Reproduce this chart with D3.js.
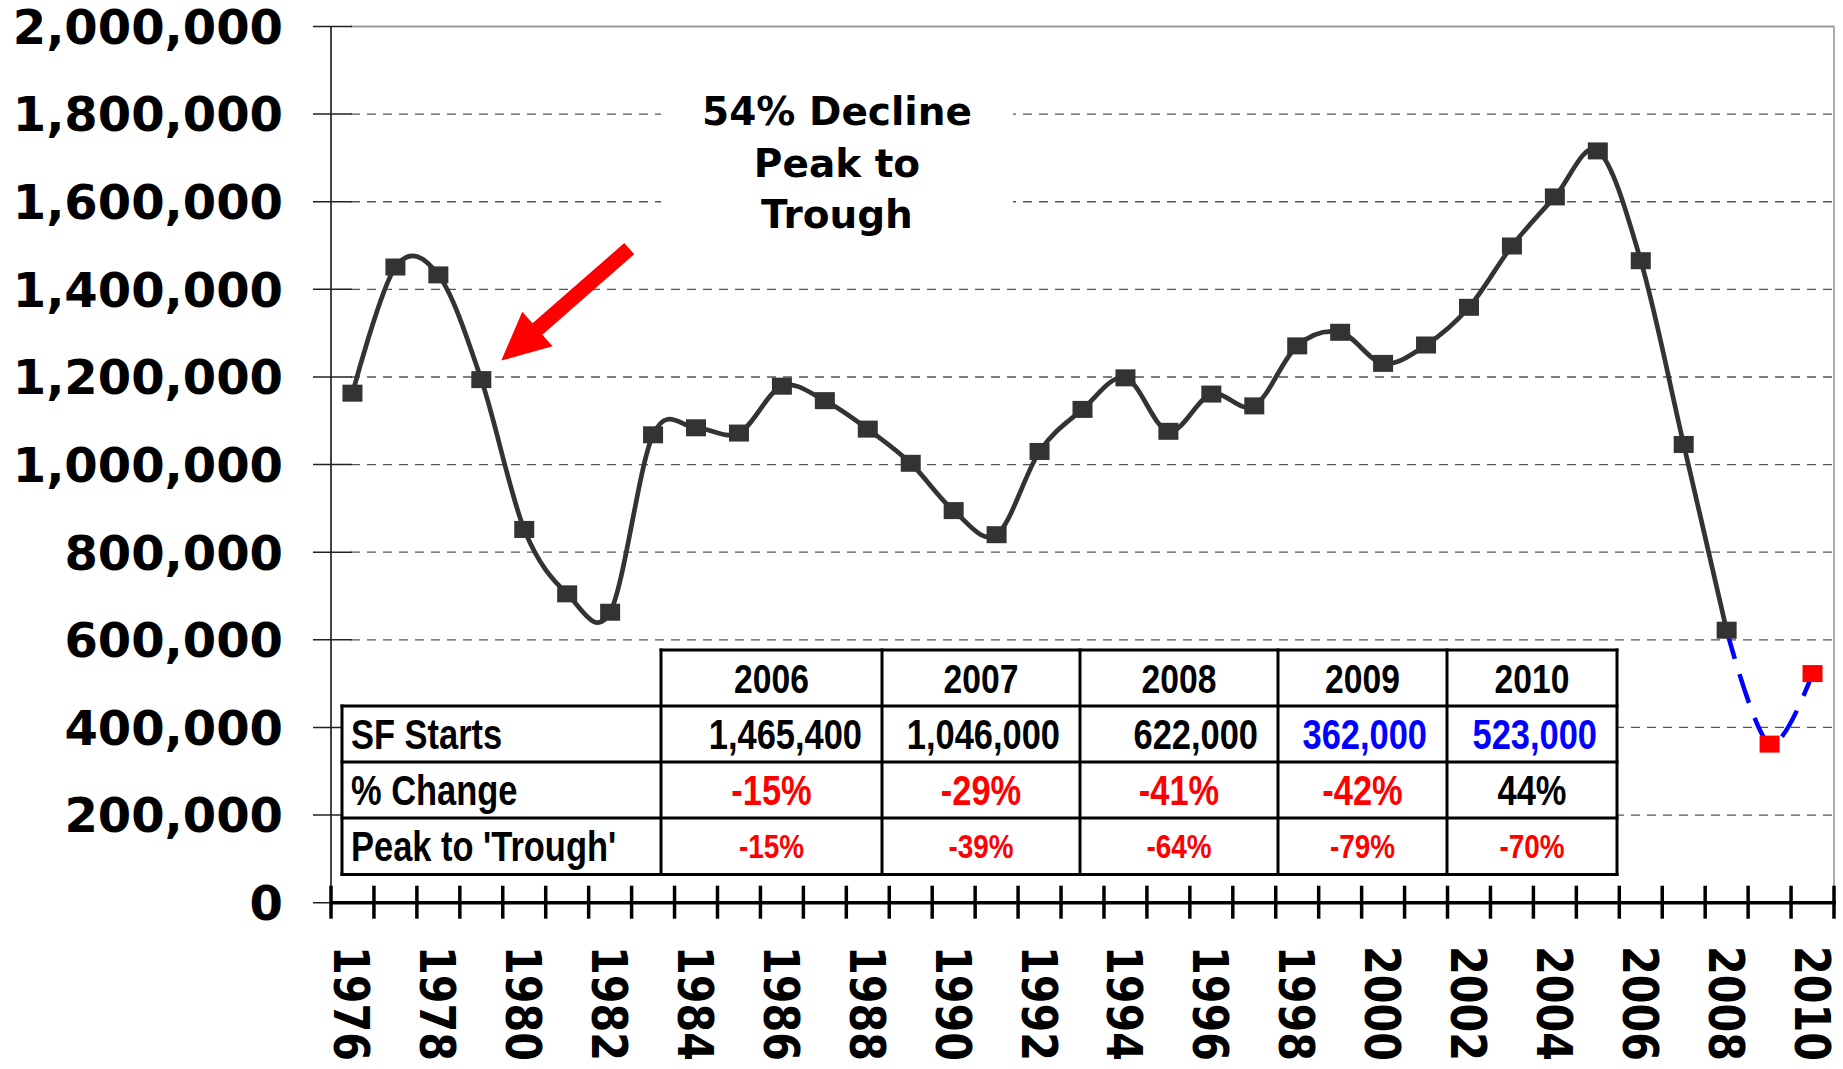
<!DOCTYPE html>
<html>
<head>
<meta charset="utf-8">
<script src="https://cdn.jsdelivr.net/npm/d3@7"></script>
<style>
  html, body { margin: 0; padding: 0; background: #fff; }
  svg { display: block; }
</style>
</head>
<body>
<svg id="chart" width="1843" height="1069"></svg>
<script>
// Single-family housing starts, 1976-2010
const years = [1976, 1977, 1978, 1979, 1980, 1981, 1982, 1983, 1984, 1985, 1986, 1987,
    1988, 1989, 1990, 1991, 1992, 1993, 1994, 1995, 1996, 1997, 1998, 1999, 2000,
    2001, 2002, 2003, 2004, 2005, 2006, 2007, 2008, 2009, 2010];
const actualYears = years.slice(0, 33); // 1976 - 2008
const actualStarts = [1163000, 1451000, 1433000, 1194000, 852000, 705000, 663000,
    1068000, 1084000, 1072000, 1179000, 1146000, 1081000, 1003000, 895000, 840000,
    1030000, 1126000, 1198000, 1076000, 1161000, 1134000, 1271000, 1302000, 1231000,
    1273000, 1359000, 1499000, 1611000, 1716000, 1465400, 1046000, 622000];
const forecastYears = [2008, 2009, 2010];
const forecastStarts = [622000, 362000, 523000];
const yTicks = [0, 200000, 400000, 600000, 800000, 1000000, 1200000, 1400000, 1600000, 1800000, 2000000];

// table under the curve
const tableYears = ['2006', '2007', '2008', '2009', '2010'];
const tableSfStarts = [1465400, 1046000, 622000, 362000, 523000];
const tablePctChange = ['-15%', '-29%', '-41%', '-42%', '44%'];
const tablePeakToTrough = ['-15%', '-39%', '-64%', '-79%', '-70%'];
const tableRowLabels = ['SF Starts', '% Change', "Peak to 'Trough'"];
const noteLines = ['54% Decline', 'Peak to', 'Trough'];

const svg = d3.select('#chart');
const plot = { left: 331, right: 1834, top: 26.5, bottom: 902.7 };
const wide = 'DejaVu Sans, Verdana, sans-serif';
const narrow = "'Liberation Sans', Arial, sans-serif";

const x = d3.scaleBand().domain(years).range([plot.left, plot.right]);
const cx = d => x(d) + x.bandwidth() / 2;
const y = d3.scaleLinear().domain([0, 2000000]).range([plot.bottom, plot.top]);

svg.append('rect').attr('width', 1843).attr('height', 1069).attr('fill', '#fff');

// gridlines
svg.append('g').selectAll('line')
    .data(yTicks.filter(v => v > 0 && v < 2000000))
    .join('line')
    .attr('x1', plot.left + 20).attr('x2', plot.right)
    .attr('y1', d => y(d)).attr('y2', d => y(d))
    .attr('stroke', '#555').attr('stroke-width', 1.3)
    .attr('stroke-dasharray', '9,7');

// plot border (top / right)
svg.append('line').attr('x1', plot.left + 20).attr('x2', plot.right)
    .attr('y1', plot.top).attr('y2', plot.top)
    .attr('stroke', '#999').attr('stroke-width', 2);
svg.append('line').attr('x1', plot.right).attr('x2', plot.right)
    .attr('y1', plot.top).attr('y2', plot.bottom)
    .attr('stroke', '#aaa').attr('stroke-width', 2);

// annotation box
svg.append('rect').attr('x', 661).attr('y', 75).attr('width', 352).attr('height', 165).attr('fill', '#fff');
svg.append('g').selectAll('text')
    .data(noteLines)
    .join('text')
    .attr('x', 837).attr('y', (d, i) => 125 + i * 51.5)
    .attr('text-anchor', 'middle')
    .attr('font-family', wide).attr('font-weight', 'bold').attr('font-size', 39)
    .attr('fill', '#000')
    .text(d => d);

// y axis
svg.append('line').attr('x1', plot.left).attr('x2', plot.left)
    .attr('y1', plot.top).attr('y2', plot.bottom)
    .attr('stroke', '#444').attr('stroke-width', 2);
const yAxis = svg.append('g');
yAxis.selectAll('line')
    .data(yTicks)
    .join('line')
    .attr('x1', 313).attr('x2', 352)
    .attr('y1', d => y(d)).attr('y2', d => y(d))
    .attr('stroke', '#222').attr('stroke-width', 1.5);
yAxis.selectAll('text')
    .data(yTicks)
    .join('text')
    .attr('x', 283).attr('y', d => y(d)).attr('dy', '0.36em')
    .attr('text-anchor', 'end')
    .attr('font-family', wide).attr('font-weight', 'bold').attr('font-size', 48)
    .text(d => d3.format(',')(d));

// table
const cols = [661, 882, 1080, 1278, 1447, 1617];
const rows = [650, 706, 762, 818, 874.5];
const labelLeft = 342;
const table = svg.append('g');
table.append('rect').attr('x', cols[0]).attr('y', rows[0])
    .attr('width', cols[5] - cols[0]).attr('height', rows[1] - rows[0]).attr('fill', '#fff');
table.append('rect').attr('x', labelLeft).attr('y', rows[1])
    .attr('width', cols[5] - labelLeft).attr('height', rows[4] - rows[1]).attr('fill', '#fff');

const colCenter = i => (cols[i] + cols[i + 1]) / 2;
const rowBase = (r, size) => (rows[r] + rows[r + 1]) / 2 + 0.358 * size;

table.selectAll('.yr').data(tableYears).join('text')
    .attr('x', (d, i) => colCenter(i)).attr('y', rowBase(0, 41))
    .attr('text-anchor', 'middle').attr('font-size', 41)
    .attr('fill', '#000').text(d => d);
table.selectAll('.sf').data(tableSfStarts).join('text')
    .attr('x', (d, i) => cols[i + 1] - 20).attr('y', rowBase(1, 42))
    .attr('text-anchor', 'end').attr('font-size', 42)
    .attr('fill', (d, i) => i >= 3 ? '#0000ff' : '#000')
    .text(d => d3.format(',')(d));
table.selectAll('.pc').data(tablePctChange).join('text')
    .attr('x', (d, i) => colCenter(i)).attr('y', rowBase(2, 42))
    .attr('text-anchor', 'middle').attr('font-size', 42)
    .attr('fill', d => d.startsWith('-') ? '#ff0000' : '#000')
    .text(d => d);
table.selectAll('.pt').data(tablePeakToTrough).join('text')
    .attr('x', (d, i) => colCenter(i)).attr('y', rowBase(3, 34))
    .attr('text-anchor', 'middle').attr('font-size', 34)
    .attr('fill', d => d.startsWith('-') ? '#ff0000' : '#000')
    .text(d => d);
table.selectAll('.lbl').data(tableRowLabels).join('text')
    .attr('x', labelLeft + 9).attr('y', (d, i) => rowBase(i + 1, 42))
    .attr('font-size', 42).attr('fill', '#000')
    .text(d => d);
// condensed look of the table font
table.selectAll('text')
    .attr('font-family', narrow).attr('font-weight', 'bold')
    .each(function () {
        const len = this.getComputedTextLength();
        d3.select(this).attr('textLength', len * 0.82).attr('lengthAdjust', 'spacingAndGlyphs');
    });

const tl = table.append('g').attr('stroke', '#000').attr('stroke-width', 3).attr('stroke-linecap', 'square');
tl.append('line').attr('x1', cols[0]).attr('x2', cols[5]).attr('y1', rows[0]).attr('y2', rows[0]);
rows.slice(1).forEach(r => {
    tl.append('line').attr('x1', labelLeft).attr('x2', cols[5]).attr('y1', r).attr('y2', r);
});
tl.append('line').attr('x1', labelLeft).attr('x2', labelLeft).attr('y1', rows[1]).attr('y2', rows[4]);
cols.forEach(c => {
    tl.append('line').attr('x1', c).attr('x2', c).attr('y1', rows[0]).attr('y2', rows[4]);
});

// x axis
svg.append('line').attr('x1', plot.left).attr('x2', plot.right + 2)
    .attr('y1', plot.bottom).attr('y2', plot.bottom)
    .attr('stroke', '#000').attr('stroke-width', 3.5);
svg.append('g').selectAll('line')
    .data(years.map(d => x(d)).concat([plot.right]))
    .join('line')
    .attr('x1', d => d).attr('x2', d => d)
    .attr('y1', plot.bottom - 17).attr('y2', plot.bottom + 16)
    .attr('stroke', '#000').attr('stroke-width', 3.5);
svg.append('g').selectAll('text')
    .data(years.filter(d => d % 2 === 0))
    .join('text')
    .attr('transform', d => `translate(${cx(d)},946) rotate(90)`)
    .attr('dy', '0.36em')
    .attr('font-family', wide).attr('font-weight', 'bold').attr('font-size', 50)
    .attr('textLength', 115).attr('lengthAdjust', 'spacingAndGlyphs')
    .text(d => d);

// series lines
const line = d3.line()
    .x(d => cx(d.year))
    .y(d => y(d.value))
    .curve(d3.curveCatmullRom.alpha(0));

const actual = actualYears.map((yr, i) => ({ year: yr, value: actualStarts[i] }));
const forecast = forecastYears.map((yr, i) => ({ year: yr, value: forecastStarts[i] }));

svg.append('path').datum(forecast)
    .attr('fill', 'none').attr('stroke', '#0000ff').attr('stroke-width', 4.5)
    .attr('stroke-dasharray', '30,16')
    .attr('d', line);
svg.append('path').datum(actual)
    .attr('fill', 'none').attr('stroke', '#333').attr('stroke-width', 4.7)
    .attr('d', line);

svg.append('g').selectAll('rect')
    .data(actual)
    .join('rect')
    .attr('x', d => cx(d.year) - 10).attr('y', d => y(d.value) - 8.5)
    .attr('width', 20).attr('height', 17)
    .attr('fill', '#333');
svg.append('g').selectAll('rect')
    .data(forecast.slice(1))
    .join('rect')
    .attr('x', d => cx(d.year) - 10).attr('y', d => y(d.value) - 8.5)
    .attr('width', 20).attr('height', 17)
    .attr('fill', '#ff0000');

// red arrow pointing at the 1979 drop
const tip = [cx(1979) + 20, y(actualStarts[3]) - 19];
const u = [0.7526, -0.6585], p = [0.6585, 0.7526];
const at = (len, off) => [tip[0] + u[0] * len + p[0] * off, tip[1] + u[1] * len + p[1] * off];
const arrowPts = [tip, at(48, 23), at(48, 7.5), at(170, 7.5), at(170, -7.5), at(48, -7.5), at(48, -23)];
svg.append('polygon')
    .attr('points', arrowPts.map(q => q.join(',')).join(' '))
    .attr('fill', '#ff0000');
</script>
</body>
</html>
